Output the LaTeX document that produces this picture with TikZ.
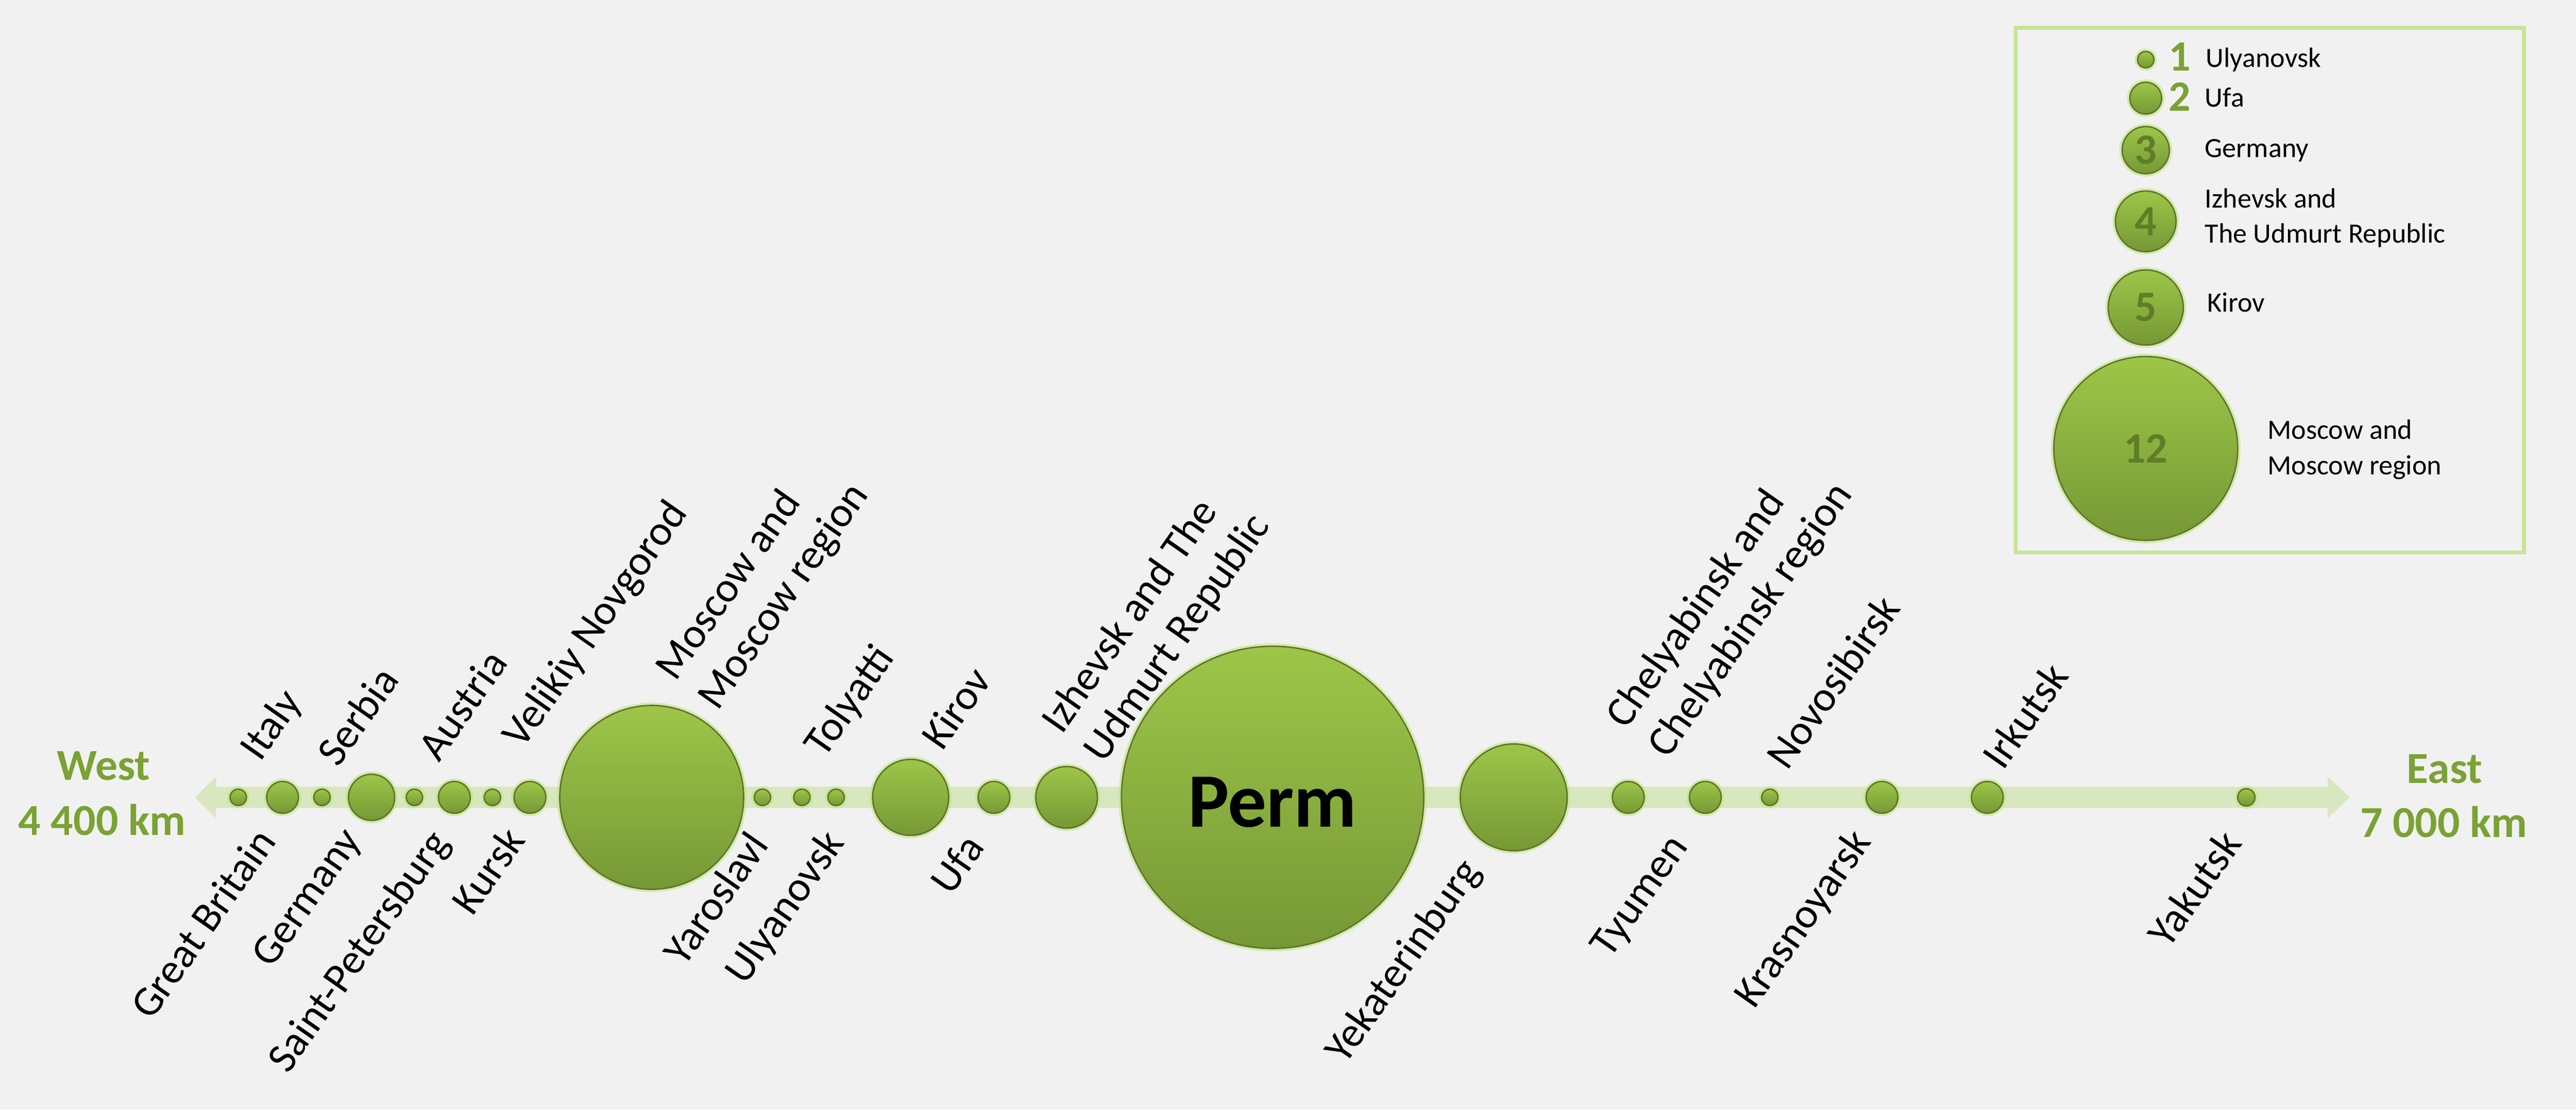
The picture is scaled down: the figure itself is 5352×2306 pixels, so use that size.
\documentclass[tikz,border=0pt]{standalone}
\usepackage{fontspec}
\setmainfont{Carlito}
\usetikzlibrary{positioning}

\definecolor{bg}{RGB}{241,241,241}
\definecolor{dottop}{RGB}{157,198,72}
\definecolor{dotbot}{RGB}{118,152,54}
\definecolor{dotline}{RGB}{92,118,42}
\definecolor{glow}{RGB}{195,228,130}
\definecolor{band}{RGB}{216,231,190}
\definecolor{frame}{RGB}{200,228,150}
\definecolor{numfill}{RGB}{122,162,52}
\definecolor{numline}{RGB}{96,126,38}

\begin{document}
\begin{tikzpicture}[x=0.1pt,y=-0.1pt,
dot/.style={circle,draw=dotline,line width=0.3pt,inner sep=0pt,
  top color=dottop,bottom color=dotbot,minimum size=#1*0.1pt,
  preaction={draw=glow,line width=1.2pt,opacity=0.6}},
up/.style={rotate=55,anchor=base west,inner sep=0pt,align=left,
  font=\fontsize{8.8}{10.6}\selectfont},
down/.style={rotate=55,anchor=base east,inner sep=0pt,
  font=\fontsize{8.8}{10.6}\selectfont},
key/.style={anchor=base west,inner sep=0pt,align=left,
  font=\fontsize{5.8}{7.3}\selectfont},
num/.style={inner sep=0pt,text=numfill,font=\fontsize{9}{9}\bfseries\selectfont},
side/.style={anchor=base,inner sep=0pt,text=numfill,font=\fontsize{9.2}{11}\bfseries\selectfont}]
\fill[bg] (0,0) rectangle (5352,2306);
\useasboundingbox (0,0) rectangle (5352,2306);

% the axis
\fill[band] (405,1657) -- (449,1614) -- (449,1635) -- (4836,1635) -- (4836,1614)
  -- (4882,1657) -- (4836,1700) -- (4836,1679) -- (449,1679) -- (449,1700) -- cycle;

\foreach \x/\d/\n in {495/34/italy, 587/66/britain, 669/34/serbia, 772/96/germany,
  861/34/austria, 944/66/spb, 1023/34/novgorod, 1101/66/kursk, 1354/382/moscow,
  1584/34/yaroslavl, 1666/34/ulyanovsk, 1737/34/tolyatti, 1892/158/kirov,
  2065/66/ufa, 2216/128/izhevsk, 3145/222/yekat, 3383/66/chelyab, 3543/66/tyumen,
  3677/34/novosib, 3910/66/krasnoyarsk, 4129/66/irkutsk, 4667/36/yakutsk}
  \node[dot=\d] (\n) at (\x,1657) {};
\node[dot=628] (perm) at (2644,1657) {};
\node[anchor=base,inner sep=0pt,font=\fontsize{16}{16}\bfseries\selectfont] (permtxt) at (2644,1719) {Perm};

% names above and below
\foreach \x/\y/\t [count=\i] in {540/1586/Italy, 702/1598/Serbia, 911/1587/Austria,
  1085/1560/Velikiy Novgorod, 1490/1480/{Moscow and\\Moscow region},
  1712/1579/Tolyatti, 1957/1564/Kirov, 2292/1590/{Izhevsk and The\\Udmurt Republic},
  3464/1580/{Chelyabinsk and\\Chelyabinsk region}, 3713/1605/Novosibirsk,
  4161/1605/Irkutsk}
  \node[up] (u\i) at (\x,\y) {\t};
\foreach \x/\y/\t [count=\i] in {577/1748/Great Britain, 753/1745/Germany,
  937/1750/Saint-Petersburg, 1095/1745/Kursk, 1601/1755/Yaroslavl,
  1758/1750/Ulyanovsk, 2049/1760/Ufa, 3079/1809/Yekaterinburg,
  3510/1758/Tyumen, 3891/1748/Krasnoyarsk, 4661/1752/Yakutsk}
  \node[down] (d\i) at (\x,\y) {\t};

\node[side] (west) at (215,1621) {West};
\node[side] (westkm) at (212,1736) {4 400 km};
\node[side] (east) at (5079,1627) {East};
\node[side] (eastkm) at (5077,1740) {7 000 km};

% legend
\node[draw=frame,line width=0.8pt,minimum width=105.6pt,minimum height=109pt,inner sep=0pt] (keybox) at (4716,603) {};
\foreach \y/\d/\n in {124/34/1, 204/66/2, 312/98/3, 460/126/4, 639/156/5, 932/382/12}
  \node[dot=\d] (k\n) at (4458,\y) {};
\node[num] (n1) at (4529,118) {1};
\node[num] (n2) at (4529,201) {2};
\foreach \n in {3,4,5,12}
  \node[num,text=numline] (n\n) at (k\n) {\n};
\node[key] (t1) at (4581,140) {Ulyanovsk};
\node[key] (t2) at (4579,222) {Ufa};
\node[key] (t3) at (4579,327) {Germany};
\node[key] (t4) at (4579,505) {Izhevsk and\\The Udmurt Republic};
\node[key] (t5) at (4584,648) {Kirov};
\node[key] (t12) at (4709,986) {Moscow and\\Moscow region};
\end{tikzpicture}
\end{document}
